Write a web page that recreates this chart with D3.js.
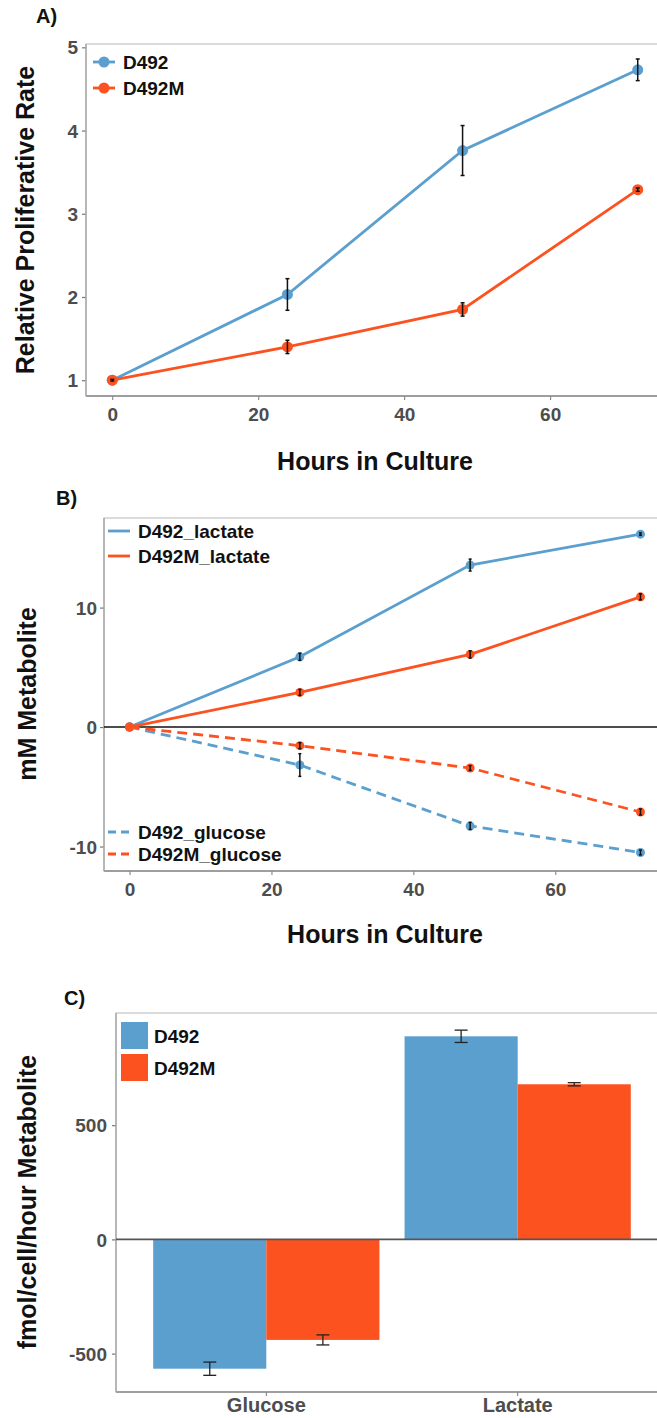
<!DOCTYPE html>
<html>
<head>
<meta charset="utf-8">
<script src="https://cdn.jsdelivr.net/npm/d3@7"></script>
<style>
body { margin: 0; background: #fff; }
svg text { font-family: "Liberation Sans", Arial, sans-serif; font-weight: bold; fill: #111; }
.tick text { fill: #4d4d4d; font-size: 19px; }
.tick line { stroke: #777; }
</style>
</head>
<body>
<div id="chart"></div>
<script>

// ---- data ----
var hours = [0, 24, 48, 72];
var hourTicks = [0, 20, 40, 60];

// A) relative proliferative rate
var prolifD492 = [1, 2.03, 3.76, 4.73];
var prolifD492Err = [0.01, 0.19, 0.30, 0.13];
var prolifD492M = [1, 1.40, 1.85, 3.29];
var prolifD492MErr = [0.01, 0.08, 0.08, 0.02];
var prolifTicks = [1, 2, 3, 4, 5];

// B) mM metabolite
var lactateD492 = [0, 5.88, 13.56, 16.15];
var lactateD492Err = [0, 0.30, 0.50, 0.10];
var lactateD492M = [0, 2.90, 6.08, 10.90];
var lactateD492MErr = [0, 0.25, 0.30, 0.25];
var glucoseD492 = [0, -3.18, -8.28, -10.50];
var glucoseD492Err = [0, 0.95, 0.30, 0.20];
var glucoseD492M = [0, -1.56, -3.43, -7.11];
var glucoseD492MErr = [0, 0.25, 0.20, 0.25];
var metabTicks = [-10, 0, 10];

// C) fmol/cell/hour
var metabolites = ['Glucose', 'Lactate'];
var cellLines = ['D492', 'D492M'];
var rateD492 = [-566, 889];
var rateD492Err = [29, 27];
var rateD492M = [-440, 679];
var rateD492MErr = [22, 7];
var rateTicks = [-500, 0, 500];

var blue = '#5b9fcf';
var orange = '#fc5220';

var svg = d3.select('#chart')
  .append('svg')
  .attr('width', 657)
  .attr('height', 1418);

// zip x values, y values and errors into points
var toPoints = (xs, ys, errs) => xs.map((x, i) => ({x: x, y: ys[i], e: errs[i]}));

// plain ascii labels (ggplot uses a hyphen for minus)
var plain = d => String(d);

// border, ticks and axis lines for one panel
var drawFrame = (g, xScale, yScale, xTicks, yTicks, labelPad) => {
  var x0 = xScale.range()[0], x1 = xScale.range()[1];
  var y0 = yScale.range()[0], y1 = yScale.range()[1];

  g.append('rect')
    .attr('x', x0).attr('y', y1)
    .attr('width', x1 - x0).attr('height', y0 - y1)
    .attr('fill', 'none')
    .attr('stroke', '#c4c4c4')
    .attr('stroke-width', 1.2);

  var xAxis = xScale.bandwidth ? d3.axisBottom(xScale)
                               : d3.axisBottom(xScale).tickValues(xTicks).tickFormat(plain);
  var ax = g.append('g')
    .attr('class', 'axisX')
    .attr('transform', 'translate(0,' + y0 + ')')
    .call(xAxis.tickSize(4).tickPadding(5));
  ax.select('.domain').remove();
  ax.selectAll('.tick text').attr('dy', '0.85em');

  var ay = g.append('g')
    .attr('transform', 'translate(' + x0 + ',0)')
    .call(d3.axisLeft(yScale).tickValues(yTicks).tickFormat(plain).tickSize(4).tickPadding(labelPad));
  ay.select('.domain').remove();
  ay.selectAll('.tick line').attr('stroke-width', 1.2);
  ay.selectAll('.tick text').attr('dy', '0.35em');

  // axis lines
  g.append('line')
    .attr('x1', x0).attr('x2', x1).attr('y1', y0).attr('y2', y0)
    .attr('stroke', '#8a8a8a').attr('stroke-width', 1.6);
  g.append('line')
    .attr('x1', x0).attr('x2', x0).attr('y1', y0).attr('y2', y1)
    .attr('stroke', '#a8a8a8').attr('stroke-width', 1.4);
}

var yTitle = (text, x, y) => {
  svg.append('text')
    .attr('transform', 'translate(' + x + ',' + y + ') rotate(-90)')
    .attr('text-anchor', 'middle')
    .style('font-size', '25px')
    .text(text);
}

var xTitle = (text, x, y) => {
  svg.append('text')
    .attr('x', x).attr('y', y)
    .attr('text-anchor', 'middle')
    .style('font-size', '25px')
    .text(text);
}

var panelLabel = (text, x, y) => {
  svg.append('text')
    .attr('x', x).attr('y', y)
    .style('font-size', '20px')
    .text(text);
}

// one series: line, points, error bars
var drawSeries = (g, xScale, yScale, pts, color, dash, r, capW) => {
  var line = d3.line()
    .x(d => xScale(d.x))
    .y(d => yScale(d.y));

  g.append('path')
    .datum(pts)
    .attr('d', line)
    .attr('fill', 'none')
    .attr('stroke', color)
    .attr('stroke-width', 2.8)
    .attr('stroke-dasharray', dash);

  g.selectAll(null)
    .data(pts)
    .enter()
    .append('circle')
    .attr('cx', d => xScale(d.x))
    .attr('cy', d => yScale(d.y))
    .attr('r', r)
    .attr('fill', color);

  var eb = g.selectAll(null)
    .data(pts.filter(d => d.e > 0))
    .enter()
    .append('g')
    .attr('stroke', '#111')
    .attr('stroke-width', 1.5);
  eb.append('line')
    .attr('x1', d => xScale(d.x)).attr('x2', d => xScale(d.x))
    .attr('y1', d => yScale(d.y - d.e)).attr('y2', d => yScale(d.y + d.e));
  eb.append('line')
    .attr('x1', d => xScale(d.x) - capW).attr('x2', d => xScale(d.x) + capW)
    .attr('y1', d => yScale(d.y - d.e)).attr('y2', d => yScale(d.y - d.e));
  eb.append('line')
    .attr('x1', d => xScale(d.x) - capW).attr('x2', d => xScale(d.x) + capW)
    .attr('y1', d => yScale(d.y + d.e)).attr('y2', d => yScale(d.y + d.e));
}

var legendLine = (g, x, y, label, color, dash, dot) => {
  g.append('line')
    .attr('x1', x).attr('x2', x + 22).attr('y1', y).attr('y2', y)
    .attr('stroke', color).attr('stroke-width', 2.8)
    .attr('stroke-dasharray', dash);
  if (dot) {
    g.append('circle').attr('cx', x + 11).attr('cy', y).attr('r', 5.5).attr('fill', color);
  }
  g.append('text')
    .attr('x', x + 30).attr('y', y + 7)
    .style('font-size', '19px')
    .text(label);
}

// ---------- A) ----------
var makePanelA = () => {
  var g = svg.append('g');
  var xScale = d3.scaleLinear().domain([-3.6, 75.6]).range([86, 664]);
  var yScale = d3.scaleLinear().domain([0.81, 5.04]).range([396, 44]);

  drawFrame(g, xScale, yScale, hourTicks, prolifTicks, 4);
  drawSeries(g, xScale, yScale, toPoints(hours, prolifD492, prolifD492Err), blue, null, 5.5, 2);
  drawSeries(g, xScale, yScale, toPoints(hours, prolifD492M, prolifD492MErr), orange, null, 5.5, 2);

  legendLine(g, 93, 62, 'D492', blue, null, true);
  legendLine(g, 93, 88, 'D492M', orange, null, true);

  panelLabel('A)', 36, 23);
  yTitle('Relative Proliferative Rate', 34, 220);
  xTitle('Hours in Culture', 375, 470);
}

// ---------- B) ----------
var makePanelB = () => {
  var g = svg.append('g');
  var xScale = d3.scaleLinear().domain([-3.6, 75.6]).range([104, 666]);
  var yScale = d3.scaleLinear().domain([-12.05, 17.5]).range([871, 518]);

  drawFrame(g, xScale, yScale, hourTicks, metabTicks, 3);

  g.append('line')
    .attr('x1', xScale.range()[0]).attr('x2', xScale.range()[1])
    .attr('y1', yScale(0)).attr('y2', yScale(0))
    .attr('stroke', '#111').attr('stroke-width', 1.5);

  drawSeries(g, xScale, yScale, toPoints(hours, glucoseD492, glucoseD492Err), blue, '10,6', 4.5, 1.5);
  drawSeries(g, xScale, yScale, toPoints(hours, glucoseD492M, glucoseD492MErr), orange, '10,6', 4.5, 1.5);
  drawSeries(g, xScale, yScale, toPoints(hours, lactateD492, lactateD492Err), blue, null, 4.5, 1.5);
  drawSeries(g, xScale, yScale, toPoints(hours, lactateD492M, lactateD492MErr), orange, null, 4.5, 1.5);

  legendLine(g, 108, 531, 'D492_lactate', blue, null, false);
  legendLine(g, 108, 556, 'D492M_lactate', orange, null, false);
  legendLine(g, 108, 832, 'D492_glucose', blue, '8,5', false);
  legendLine(g, 108, 854, 'D492M_glucose', orange, '8,5', false);

  panelLabel('B)', 56, 505);
  yTitle('mM Metabolite', 36, 694);
  xTitle('Hours in Culture', 385, 943);
}

// ---------- C) ----------
var makePanelC = () => {
  var g = svg.append('g');
  var xScale = d3.scaleBand().domain(metabolites).range([116, 668]).paddingInner(0.1).paddingOuter(0.148);
  var xSub = d3.scaleBand().domain(cellLines).range([0, xScale.bandwidth()]);
  var yScale = d3.scaleLinear().domain([-668, 991]).range([1392, 1013]);
  var color = d3.scaleOrdinal().domain(cellLines).range([blue, orange]);

  drawFrame(g, xScale, yScale, null, rateTicks, 5);
  g.select('.axisX').selectAll('.tick text')
    .style('font-size', '20px').attr('dy', '0.55em');

  var bars = [];
  metabolites.forEach(function(m, i) {
    bars.push({m: m, line: 'D492', v: rateD492[i], e: rateD492Err[i]});
    bars.push({m: m, line: 'D492M', v: rateD492M[i], e: rateD492MErr[i]});
  });

  g.selectAll('rect.bar')
    .data(bars)
    .enter()
    .append('rect')
    .attr('class', 'bar')
    .attr('x', d => xScale(d.m) + xSub(d.line))
    .attr('width', xSub.bandwidth())
    .attr('y', d => yScale(Math.max(0, d.v)))
    .attr('height', d => Math.abs(yScale(d.v) - yScale(0)))
    .attr('fill', d => color(d.line));

  var eb = g.selectAll(null)
    .data(bars)
    .enter()
    .append('g')
    .attr('stroke', '#222')
    .attr('stroke-width', 1.3);
  var cx = d => xScale(d.m) + xSub(d.line) + xSub.bandwidth() / 2;
  eb.append('line')
    .attr('x1', cx).attr('x2', cx)
    .attr('y1', d => yScale(d.v - d.e)).attr('y2', d => yScale(d.v + d.e));
  eb.append('line')
    .attr('x1', d => cx(d) - 6.5).attr('x2', d => cx(d) + 6.5)
    .attr('y1', d => yScale(d.v - d.e)).attr('y2', d => yScale(d.v - d.e));
  eb.append('line')
    .attr('x1', d => cx(d) - 6.5).attr('x2', d => cx(d) + 6.5)
    .attr('y1', d => yScale(d.v + d.e)).attr('y2', d => yScale(d.v + d.e));

  g.append('line')
    .attr('x1', xScale.range()[0]).attr('x2', xScale.range()[1])
    .attr('y1', yScale(0)).attr('y2', yScale(0))
    .attr('stroke', '#555').attr('stroke-width', 1.6);

  // legend
  cellLines.forEach(function(c, i) {
    g.append('rect')
      .attr('x', 121).attr('y', 1022 + i * 32)
      .attr('width', 27).attr('height', 27)
      .attr('fill', color(c));
    g.append('text')
      .attr('x', 154).attr('y', 1043 + i * 32)
      .style('font-size', '19px')
      .text(c);
  });

  panelLabel('C)', 64, 1005);
  yTitle('fmol/cell/hour Metabolite', 36, 1202);
}

makePanelA();
makePanelB();
makePanelC();

</script>
</body>
</html>
